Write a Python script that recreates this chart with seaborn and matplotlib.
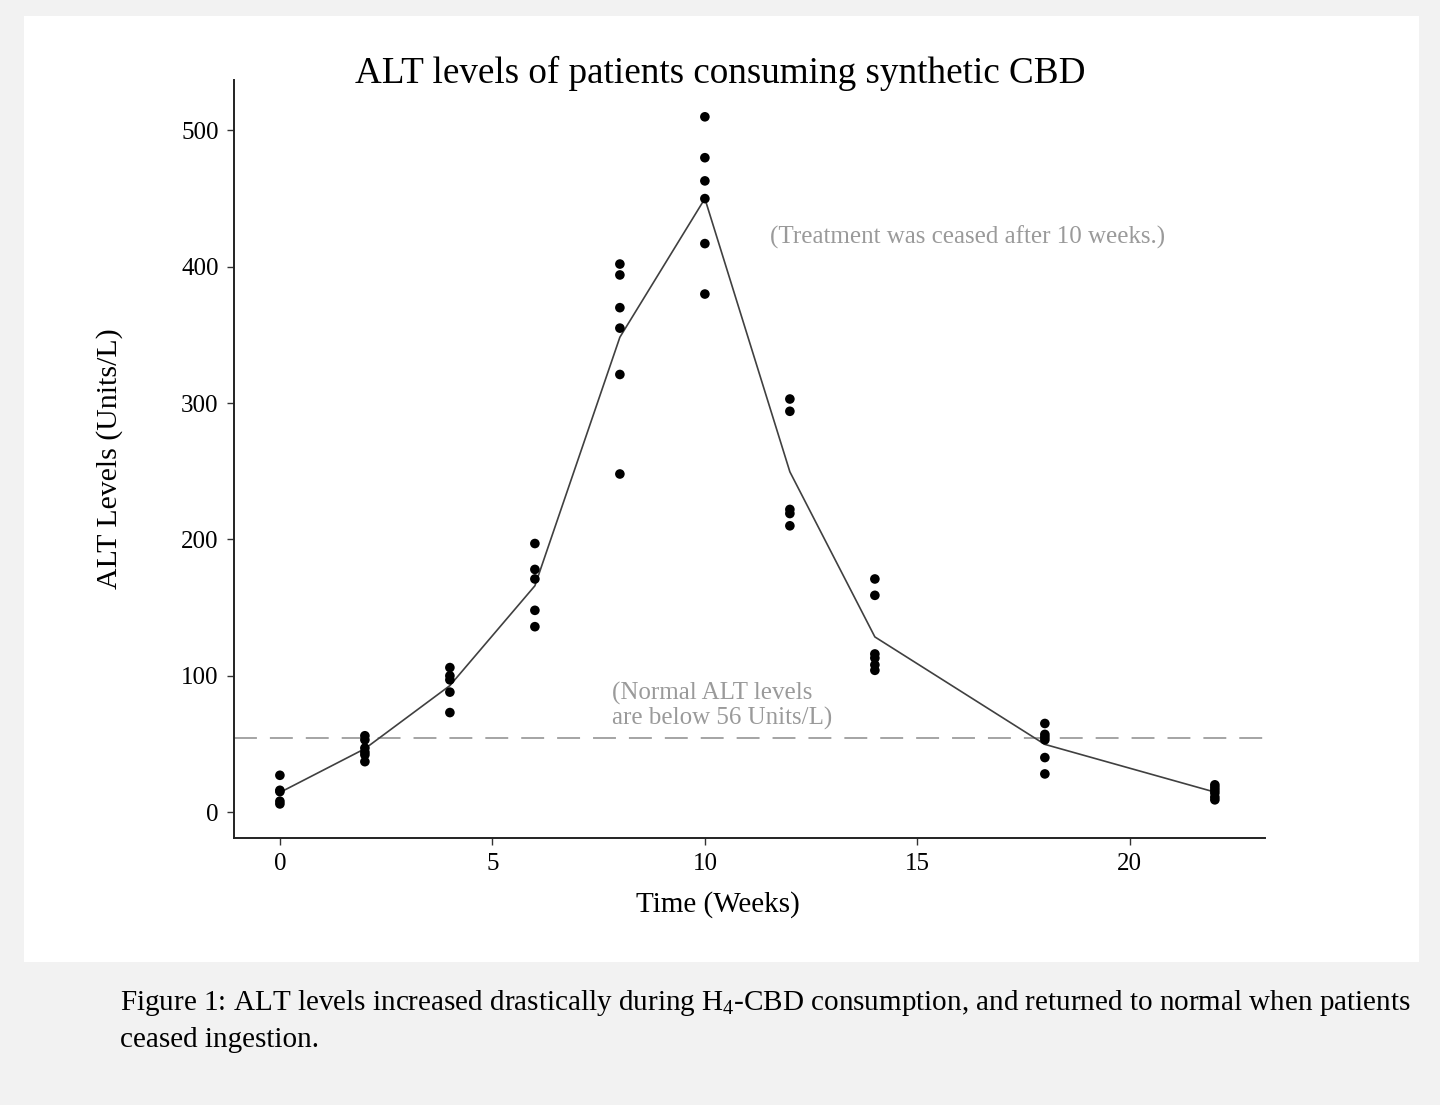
import matplotlib
matplotlib.use("Agg")
import matplotlib.pyplot as plt
from matplotlib.patches import Rectangle
import seaborn as sns
import pandas as pd

# ---- data ----
weeks = [0, 2, 4, 6, 8, 10, 12, 14, 18, 22]
alt_w0 = [27, 16, 15, 8, 6]
alt_w2 = [56, 53, 47, 44, 42, 37]
alt_w4 = [106, 100, 97, 88, 73]
alt_w6 = [197, 178, 171, 148, 136]
alt_w8 = [402, 394, 370, 355, 321, 248]
alt_w10 = [510, 480, 463, 450, 417, 380]
alt_w12 = [303, 294, 222, 219, 210]
alt_w14 = [171, 159, 116, 113, 108, 104]
alt_w18 = [65, 57, 55, 53, 40, 28]
alt_w22 = [20, 18, 16, 14, 11, 9]
normal_limit = 54
x_ticks = [0, 5, 10, 15, 20]
y_ticks = [0, 100, 200, 300, 400, 500]

title = "ALT levels of patients consuming synthetic CBD"
xlabel = "Time (Weeks)"
ylabel = "ALT Levels (Units/L)"
note_treat = "(Treatment was ceased after 10 weeks.)"
note_normal = "(Normal ALT levels\nare below 56 Units/L)"
caption1 = "Figure 1: ALT levels increased drastically during H$_4$-CBD consumption, and returned to normal when patients"
caption2 = "ceased ingestion."

groups = [alt_w0, alt_w2, alt_w4, alt_w6, alt_w8, alt_w10, alt_w12, alt_w14, alt_w18, alt_w22]
rows = []
for w, vals in zip(weeks, groups):
    for v in vals:
        rows.append({"week": w, "alt": v})
df = pd.DataFrame(rows)

sns.set_style("ticks")
plt.rcParams["font.family"] = ["Liberation Serif", "DejaVu Serif"]
plt.rcParams["mathtext.fontset"] = "custom"
plt.rcParams["mathtext.rm"] = "Liberation Serif"
plt.rcParams["mathtext.it"] = "Liberation Serif:italic"
plt.rcParams["mathtext.bf"] = "Liberation Serif:bold"
plt.rcParams["text.color"] = "black"
plt.rcParams["axes.labelcolor"] = "black"

fig = plt.figure(figsize=(14.4, 11.05), dpi=100)
fig.patch.set_facecolor("#f2f2f2")
panel = Rectangle((24 / 1440, 1 - 962 / 1105), (1419 - 24) / 1440, (962 - 16) / 1105,
                  transform=fig.transFigure, facecolor="white", edgecolor="none", zorder=-10)
fig.add_artist(panel)

ax = fig.add_axes([234 / 1440, 1 - 838 / 1105, (1265 - 234) / 1440, (838 - 80) / 1105])
ax.set_zorder(1)
ax.set_facecolor("white")

sns.lineplot(data=df, x="week", y="alt", estimator="mean", errorbar=None,
             color="#404040", linewidth=1.2, ax=ax, zorder=2)
sns.scatterplot(data=df, x="week", y="alt", color="black", s=48, edgecolor="none",
                ax=ax, zorder=3)
ax.axhline(normal_limit, color="#8c8c8c", linestyle=(0, (15, 8.5)), linewidth=1.1, zorder=1)

ax.set_xlim(-1.08, 23.18)
ax.set_ylim(-19, 537)
ax.set_xticks(x_ticks)
ax.set_yticks(y_ticks)
ax.tick_params(axis="both", labelsize=18, length=5, width=1, color="#333333", labelcolor="black", pad=6)
for s in ["top", "right"]:
    ax.spines[s].set_visible(False)
for s in ["left", "bottom"]:
    ax.spines[s].set_linewidth(1.4)
    ax.spines[s].set_color("#222222")

ax.set_xlabel(xlabel, fontsize=21, color="black")
ax.set_ylabel(ylabel, fontsize=21.5, color="black")
ax.xaxis.set_label_coords((718 - 234) / 1031, -(891 - 838) / 758)
ax.yaxis.set_label_coords(-(234 - 123) / 1031, 0.5)

ax.text(11.53, 421.5, note_treat, fontsize=18, color="#9a9a9a", ha="left", va="center")
ax.text(7.81, 78, note_normal, fontsize=18, color="#9a9a9a", ha="left", va="center", linespacing=1.1)

fig.text(720 / 1440, 1 - 73 / 1105, title, fontsize=26.7, ha="center", va="center", color="black")

fig.text(120 / 1440, 1 - 1003 / 1105, caption1, fontsize=21, ha="left", va="center", color="black")
fig.text(120 / 1440, 1 - 1040 / 1105, caption2, fontsize=21, ha="left", va="center", color="black")

fig.savefig("out.png", dpi=100, facecolor=fig.get_facecolor())
